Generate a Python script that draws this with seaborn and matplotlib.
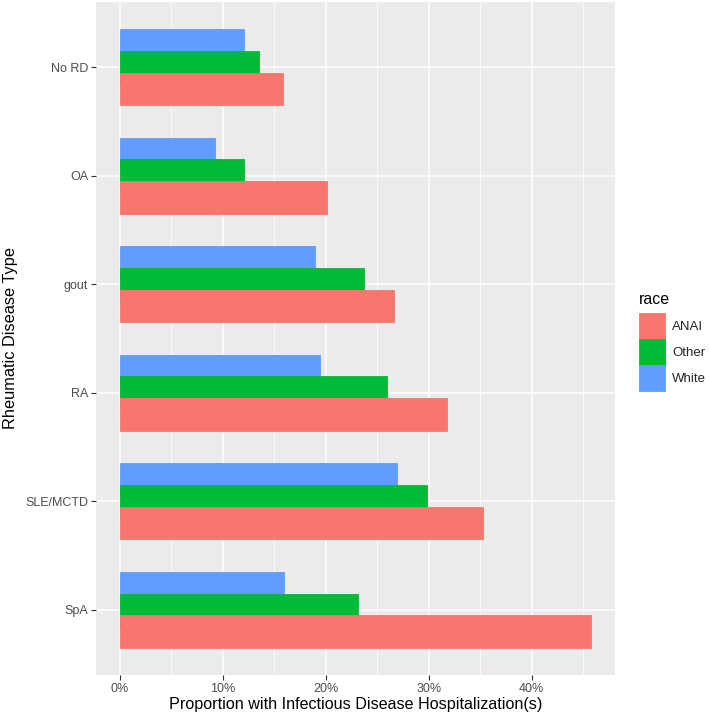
import matplotlib
matplotlib.use("Agg")
import matplotlib.pyplot as plt
import matplotlib.ticker as mticker
from matplotlib.patches import Patch
import seaborn as sns
import pandas as pd
import numpy as np

categories = ["No RD", "OA", "gout", "RA", "SLE/MCTD", "SpA"]
anai = [15.9, 20.1, 26.6, 31.8, 35.3, 45.8]
other = [13.5, 12.1, 23.7, 26.0, 29.8, 23.1]
white = [12.1, 9.3, 19.0, 19.5, 26.9, 16.0]
races = ["ANAI", "Other", "White"]
colors = {"ANAI": "#F8766D", "Other": "#00BA38", "White": "#619CFF"}
xticks = [0, 10, 20, 30, 40]

rows = []
for c, a, o, w in zip(categories, anai, other, white):
    rows.append((c, "ANAI", a))
    rows.append((c, "Other", o))
    rows.append((c, "White", w))
df = pd.DataFrame(rows, columns=["type", "race", "prop"])

sns.set_theme(style="darkgrid")
plt.rcParams["font.family"] = ["Liberation Sans", "DejaVu Sans"]

fig = plt.figure(figsize=(7.09, 7.19), dpi=100)
ax = fig.add_axes([96/709, 1-675/719, (615-96)/709, (675-2)/719])
ax.set_facecolor("#EBEBEB")

# dodge width 0.6 (bar centres 0.2 apart), bars then widened to 0.3 -> overlapping dodge
sns.barplot(data=df, y="type", x="prop", hue="race", order=categories,
            hue_order=["White", "Other", "ANAI"], palette=colors,
            width=0.6, orient="h", errorbar=None, ax=ax, legend=False,
            saturation=1)
zorders = {"ANAI": 3, "Other": 4, "White": 5}
for cont in ax.containers:
    lab = cont.get_label()
    for p in cont.patches:
        h = p.get_height()
        cy = p.get_y() + h / 2
        nh = h * 1.5
        p.set_y(cy - nh / 2)
        p.set_height(nh)
        p.set_zorder(zorders.get(lab, 3))
        p.set_edgecolor(p.get_facecolor())
        p.set_linewidth(0.6)

ax.set_xlim(-2.29, 48.09)
ax.set_ylim(5.6, -0.6)
ax.set_xticks(xticks)
ax.set_xticklabels([f"{t}%" for t in xticks])
ax.xaxis.set_minor_locator(mticker.MultipleLocator(5))
ax.grid(which="major", color="white", linewidth=1.1, zorder=0)
ax.grid(which="minor", axis="x", color="white", linewidth=0.55, zorder=0)
ax.set_axisbelow(True)
for s in ax.spines.values():
    s.set_visible(False)
ax.tick_params(axis="both", which="major", length=3.5, width=0.8, color="#333333",
               labelcolor="#4D4D4D", labelsize=9, pad=2, bottom=True, left=True)
ax.tick_params(axis="x", which="minor", length=0)
ax.set_xlabel("Proportion with Infectious Disease Hospitalization(s)", fontsize=11.6, color="black", labelpad=2)
ax.set_ylabel("Rheumatic Disease Type", fontsize=11.8, color="black", labelpad=5)

handles = [Patch(facecolor=colors[r], edgecolor=colors[r], linewidth=0.6) for r in races]
leg = fig.legend(handles, races, loc="upper left",
                 bbox_to_anchor=(639/709, 1-313/719), frameon=False,
                 fontsize=9.5, handlelength=1.95, handleheight=2.6,
                 labelspacing=0.04, handletextpad=0.55, borderaxespad=0, borderpad=0)
fig.text(639/709, 1-299/719, "race", fontsize=11.5, ha="left", va="center", color="black")

fig.savefig("out.png", dpi=100)
